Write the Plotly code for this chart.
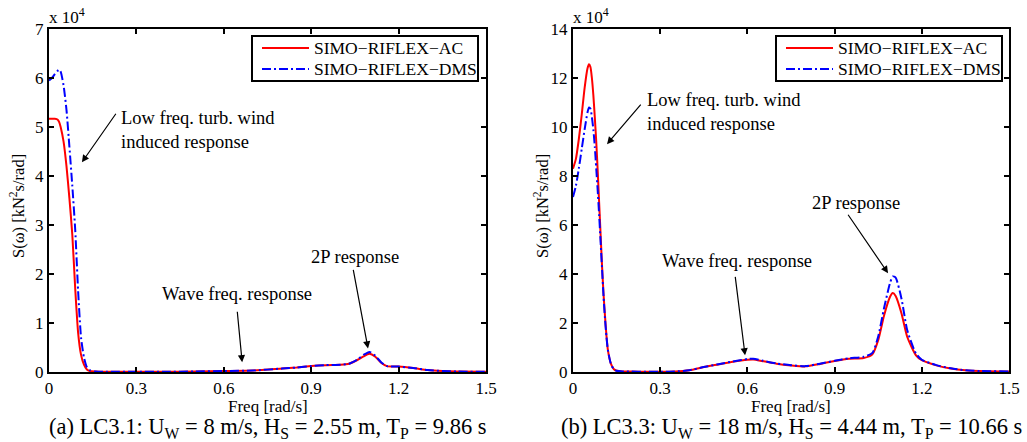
import plotly.graph_objects as go

W, H = 1027, 442

# ---------------- data (values in units of 1e4 kN^2 s/rad) ----------------
freq_a = [0, 0.01, 0.02, 0.03, 0.035, 0.04, 0.05, 0.06, 0.07, 0.08, 0.09, 0.1, 0.11,
          0.12, 0.13, 0.14, 0.16, 0.2, 0.3, 0.4, 0.5, 0.6, 0.7, 0.8, 0.85, 0.9, 0.95,
          1.0, 1.03, 1.06, 1.08, 1.1, 1.12, 1.14, 1.16, 1.2, 1.25, 1.3, 1.35, 1.4, 1.5]
ac_a = [5.17, 5.17, 5.17, 5.15, 5.1, 5.0, 4.7, 4.2, 3.55, 2.8, 1.7, 0.8, 0.35,
        0.15, 0.05, 0.02, 0.01, 0.005, 0.005, 0.005, 0.01, 0.02, 0.03, 0.07, 0.09, 0.12, 0.14,
        0.15, 0.17, 0.25, 0.32, 0.37, 0.31, 0.19, 0.12, 0.11, 0.08, 0.04, 0.02, 0.01, 0.005]
dms_a = [5.95, 6.0, 6.08, 6.15, 6.17, 6.13, 5.85, 5.35, 4.6, 3.8, 2.9, 1.65, 0.7,
         0.3, 0.1, 0.04, 0.01, 0.005, 0.005, 0.005, 0.01, 0.02, 0.03, 0.07, 0.09, 0.12, 0.14,
         0.15, 0.17, 0.26, 0.35, 0.41, 0.33, 0.2, 0.12, 0.11, 0.08, 0.04, 0.02, 0.01, 0.005]

freq_b = [0, 0.01, 0.02, 0.03, 0.04, 0.05, 0.055, 0.06, 0.065, 0.07, 0.075, 0.08, 0.085,
          0.09, 0.095, 0.1, 0.105, 0.11, 0.115, 0.12, 0.13, 0.14, 0.15, 0.17, 0.2, 0.25,
          0.3, 0.35, 0.4, 0.45, 0.5, 0.55, 0.6, 0.62, 0.65, 0.7, 0.75, 0.8, 0.85, 0.9, 0.95,
          1.0, 1.03, 1.05, 1.07, 1.09, 1.1, 1.11, 1.13, 1.15, 1.18, 1.2, 1.25, 1.3, 1.35, 1.4, 1.5]
ac_b = [8.3, 8.7, 9.5, 10.5, 11.6, 12.4, 12.56, 12.45, 12.0, 11.3, 10.4, 9.4, 8.2,
        6.9, 5.6, 4.3, 3.2, 2.3, 1.5, 0.9, 0.35, 0.12, 0.05, 0.02, 0.02, 0.01,
        0.01, 0.02, 0.07, 0.2, 0.31, 0.42, 0.5, 0.51, 0.45, 0.34, 0.27, 0.23, 0.33, 0.45, 0.54,
        0.57, 0.72, 1.3, 2.3, 3.05, 3.22, 3.1, 2.4, 1.43, 0.68, 0.48, 0.27, 0.14, 0.07, 0.04, 0.02]
dms_b = [7.14, 7.6, 8.3, 9.1, 9.9, 10.6, 10.8, 10.75, 10.4, 9.9, 9.2, 8.3, 7.4,
         6.4, 5.3, 4.2, 3.1, 2.2, 1.45, 0.9, 0.35, 0.12, 0.05, 0.02, 0.02, 0.01,
         0.01, 0.02, 0.07, 0.2, 0.32, 0.43, 0.53, 0.54, 0.47, 0.35, 0.28, 0.24, 0.34, 0.46, 0.56,
         0.62, 0.78, 1.45, 2.6, 3.6, 3.9, 3.85, 3.0, 1.7, 0.75, 0.5, 0.28, 0.15, 0.07, 0.04, 0.02]

series_names = ["SIMO\u2212RIFLEX\u2212AC", "SIMO\u2212RIFLEX\u2212DMS"]
x_ticks = [0, 0.3, 0.6, 0.9, 1.2, 1.5]
x_ticklabels = ["0", "0.3", "0.6", "0.9", "1.2", "1.5"]
y_ticks_a = [0, 1, 2, 3, 4, 5, 6, 7]
y_ticks_b = [0, 2, 4, 6, 8, 10, 12, 14]
captions = ["(a) LC3.1: U<sub>W</sub> = 8 m/s, H<sub>S</sub> = 2.55 m, T<sub>P</sub> = 9.86 s",
            "(b) LC3.3: U<sub>W</sub> = 18 m/s, H<sub>S</sub> = 4.44 m, T<sub>P</sub> = 10.66 s"]

FONT = "Liberation Serif, Times New Roman, serif"
RED = "#ff0000"
BLUE = "#0000ff"
DASHDOT = "9px,3px,2px,3px"

def px(x):
    return x / W

def py(y):
    return 1 - y / H

fig = go.Figure()

panels = [
    dict(freq=freq_a, ac=ac_a, dms=dms_a, xa="x", ya="y"),
    dict(freq=freq_b, ac=ac_b, dms=dms_b, xa="x2", ya="y2"),
]
for p in panels:
    fig.add_trace(go.Scatter(x=p["freq"], y=p["ac"], mode="lines", name=series_names[0],
                             line=dict(color=RED, width=2, shape="spline", smoothing=0.6),
                             xaxis=p["xa"], yaxis=p["ya"], showlegend=False))
    fig.add_trace(go.Scatter(x=p["freq"], y=p["dms"], mode="lines", name=series_names[1],
                             line=dict(color=BLUE, width=2, shape="spline", smoothing=0.6,
                                       dash=DASHDOT),
                             xaxis=p["xa"], yaxis=p["ya"], showlegend=False))

axis_common = dict(showline=True, linecolor="black", linewidth=2, mirror="ticks",
                   ticks="inside", ticklen=5, tickwidth=1.5, tickcolor="black",
                   showgrid=False, zeroline=False, automargin=False,
                   tickfont=dict(family=FONT, size=17, color="black"))

fig.update_layout(
    width=W, height=H,
    margin=dict(l=0, r=0, t=0, b=0, pad=0, autoexpand=False),
    paper_bgcolor="white", plot_bgcolor="white",
    font=dict(family=FONT, size=17, color="black"),
    showlegend=False,
    xaxis=dict(domain=[px(49), px(486)], range=[0, 1.5], tickvals=x_ticks,
               ticktext=x_ticklabels, anchor="y", **axis_common),
    yaxis=dict(domain=[py(372), py(29)], range=[0, 7], tickvals=y_ticks_a,
               anchor="x", **axis_common),
    xaxis2=dict(domain=[px(573), px(1009)], range=[0, 1.5], tickvals=x_ticks,
                ticktext=x_ticklabels, anchor="y2", **axis_common),
    yaxis2=dict(domain=[py(372), py(29)], range=[0, 14], tickvals=y_ticks_b,
                anchor="x2", **axis_common),
)

ann = []
shapes = []

# Legends (box, sample lines, labels) for each panel
for bx0, bx1 in [(252, 478), (776, 1002)]:
    shapes.append(dict(type="rect", xref="paper", yref="paper",
                       x0=px(bx0), x1=px(bx1), y0=py(81), y1=py(36),
                       line=dict(color="black", width=2), fillcolor="white", layer="above"))
    for row_y, color, dash, name in [(48, RED, "solid", series_names[0]),
                                     (69, BLUE, DASHDOT, series_names[1])]:
        shapes.append(dict(type="line", xref="paper", yref="paper",
                           x0=px(bx0 + 10), x1=px(bx0 + 57), y0=py(row_y), y1=py(row_y),
                           line=dict(color=color, width=2, dash=dash), layer="above"))
        ann.append(dict(x=px(bx0 + 60), y=py(row_y), xref="paper", yref="paper", text=name,
                        showarrow=False, font=dict(size=17.5), xanchor="left", yanchor="middle"))

for cx, caption, ymul_x in [(268, captions[0], 47), (791, captions[1], 571)]:
    ann.append(dict(x=px(cx), y=py(406), xref="paper", yref="paper", text="Freq [rad/s]",
                    showarrow=False, font=dict(size=17), xanchor="center", yanchor="middle"))
    ann.append(dict(x=px(cx), y=py(428), xref="paper", yref="paper", text=caption,
                    showarrow=False, font=dict(size=22.5), xanchor="center", yanchor="middle"))
    ann.append(dict(x=px(ymul_x), y=py(16), xref="paper", yref="paper", text="x 10<sup>4</sup>",
                    showarrow=False, font=dict(size=17), xanchor="left", yanchor="middle"))
for tx in [17, 541]:
    ann.append(dict(x=px(tx), y=py(206), xref="paper", yref="paper",
                    text="S(\u03c9) [kN<sup>2</sup>s/rad]", textangle=-90,
                    showarrow=False, font=dict(size=16.5), xanchor="center", yanchor="middle"))

labels = [
    (119, 130, "Low freq. turb. wind<br>induced response"),
    (160, 294, "Wave freq. response"),
    (309, 257, "2P response"),
    (645, 112, "Low freq. turb. wind<br>induced response"),
    (660, 261, "Wave freq. response"),
    (810, 203, "2P response"),
]
for x, y, t in labels:
    ann.append(dict(x=px(x), y=py(y), xref="paper", yref="paper", text=t, align="left",
                    showarrow=False, font=dict(size=18.5), xanchor="left", yanchor="middle"))

arrows = [
    ("x", "y", 0.113, 4.28, 35, -50),
    ("x", "y", 0.663, 0.2, -5, -52),
    ("x", "y", 1.095, 0.48, -15, -80),
    ("x2", "y2", 0.117, 9.3, 35, -41),
    ("x2", "y2", 0.592, 0.68, -10, -80),
    ("x2", "y2", 1.084, 4.03, -41, -60),
]
for xr, yr, hx, hy, ax, ay in arrows:
    ann.append(dict(x=hx, y=hy, xref=xr, yref=yr, ax=ax, ay=ay, axref="pixel", ayref="pixel",
                    text="", showarrow=True, arrowhead=2, arrowsize=1.2, arrowwidth=1.2,
                    arrowcolor="black"))

fig.update_layout(annotations=ann, shapes=shapes)
fig.write_html("out.html", config={"responsive": False, "displayModeBar": False},
               post_script="document.body.style.margin='0';document.body.style.padding='0';"
                           "document.body.style.overflow='hidden';")
